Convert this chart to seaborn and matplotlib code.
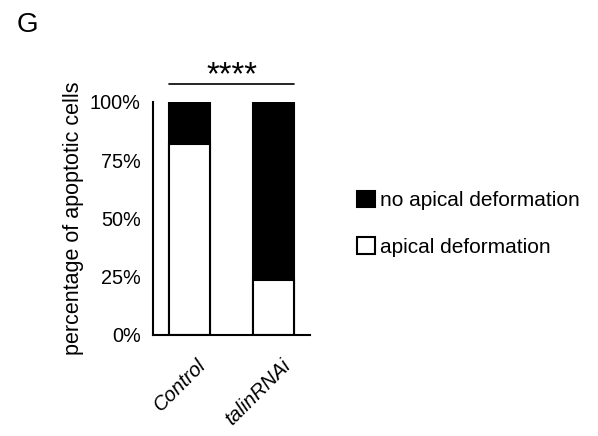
import matplotlib
matplotlib.use("Agg")
import matplotlib.pyplot as plt
import matplotlib.transforms as mtransforms
from matplotlib.patches import Patch
import seaborn as sns
import pandas as pd

# Share of apoptotic cells with / without apical deformation (%)
conditions = ["Control", "talinRNAi"]
apical_deformation = [82.0, 23.5]
no_apical_deformation = [18.0, 76.5]
y_ticks = [0, 25, 50, 75, 100]
y_tick_labels = ["0%", "25%", "50%", "75%", "100%"]

sns.set_theme(style="white")
plt.rcParams["font.family"] = ["Liberation Sans", "DejaVu Sans"]
plt.rcParams["text.color"] = "black"
plt.rcParams["axes.labelcolor"] = "black"
plt.rcParams["xtick.color"] = "black"
plt.rcParams["ytick.color"] = "black"

df = pd.DataFrame({
    "condition": conditions,
    "apical": apical_deformation,
    "total": [a + n for a, n in zip(apical_deformation, no_apical_deformation)],
})

fig = plt.figure(figsize=(5.98, 4.36), dpi=100)
ax = fig.add_axes([0.2553, 0.2317, 0.2627, 0.535])

# stacked bars: full height in black, apical-deformation part in white on top
sns.barplot(data=df, x="condition", y="total", order=conditions, color="black",
            edgecolor="black", linewidth=1.5, width=0.485, ax=ax, saturation=1)
sns.barplot(data=df, x="condition", y="apical", order=conditions, color="white",
            edgecolor="black", linewidth=1.5, width=0.485, ax=ax, saturation=1)

ax.set_xlim(-0.438, 1.426)
ax.set_ylim(0, 100)
ax.set_yticks(y_ticks)
ax.set_yticklabels(y_tick_labels, fontsize=14.3)
ax.set_xticks(range(len(conditions)))
ax.set_xticklabels(conditions, rotation=45, ha="right", rotation_mode="anchor",
                   fontsize=14.5, style="italic")
ax.tick_params(axis="y", length=0, pad=8.5)
ax.tick_params(axis="x", length=0, pad=15)
shift = mtransforms.ScaledTranslation(7 / 100, 0, fig.dpi_scale_trans)
for lbl in ax.get_xticklabels():
    lbl.set_transform(lbl.get_transform() + shift)
ax.set_xlabel("")
ax.set_ylabel("percentage of apoptotic cells", fontsize=15.5, labelpad=4)

sns.despine(ax=ax)
for side in ["left", "bottom"]:
    ax.spines[side].set_color("black")
    ax.spines[side].set_linewidth(1.5)

# significance bracket
ax.plot([-0.242, 1.242], [107.5, 107.5], color="black", lw=1.2, clip_on=False)
ax.text(0.5, 104.3, "****", ha="center", va="bottom", fontsize=23.5, clip_on=False)

# legend
handles = [
    Patch(facecolor="black", edgecolor="black", linewidth=1.5, label="no apical deformation"),
    Patch(facecolor="white", edgecolor="black", linewidth=1.5, label="apical deformation"),
]
fig.legend(handles=handles, loc="center left", bbox_to_anchor=(0.58, 0.487),
           frameon=False, fontsize=15, handlelength=0.85, handleheight=0.85,
           handletextpad=0.25, labelspacing=1.29, borderpad=0)

fig.text(0.028, 0.943, "G", fontsize=20, ha="left", va="center")

fig.savefig("out.png", dpi=100)
